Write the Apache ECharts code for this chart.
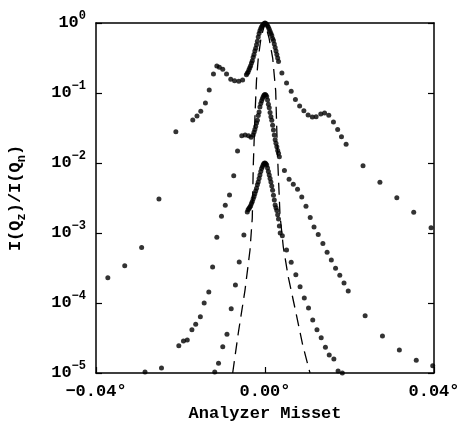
<!DOCTYPE html>
<html>
<head>
<meta charset="utf-8">
<script src="https://cdn.jsdelivr.net/npm/echarts@6/dist/echarts.min.js"></script>
<style>
    html, body { margin: 0; background: #fff; }
    #chart { width: 459px; height: 427px; }
</style>
</head>
<body>
<div id="chart"></div>
<script>
    // scan 1 (top curve, peak normalised to 1)
    var scan1X = [-0.0372, -0.0332, -0.0292, -0.0251, -0.0211, -0.0171, -0.0161, -0.0152, -0.0141, -0.0132,
        -0.0122, -0.0114, -0.0108, -0.0100, -0.0091, -0.0081, -0.0072, -0.0062, -0.0053,
        -0.0044, -0.0042, -0.0040, -0.0038, -0.0036, -0.0034, -0.0032, -0.0030, -0.0028, -0.0026,
        -0.0024, -0.0022, -0.0020, -0.0018, -0.0016, -0.0014, -0.0012, -0.0010, -0.0008, -0.0006,
        -0.0004, -0.0002, 0, 0.0002, 0.0004, 0.0006, 0.0008, 0.0010, 0.0012, 0.0014,
        0.0016, 0.0018, 0.0020, 0.0022, 0.0024, 0.0026, 0.0028, 0.0030, 0.0032,
        0.0040, 0.0051, 0.0062, 0.0072, 0.0082, 0.0092, 0.0102, 0.0112, 0.0121, 0.0132,
        0.0141, 0.0151, 0.0162, 0.0172, 0.0181, 0.0192, 0.0232, 0.0272, 0.0312, 0.0352, 0.0393];
    var scan1Y = [2.3e-4, 3.4e-4, 6.2e-4, 3.06e-3, 0.028, 0.041, 0.047, 0.055, 0.072, 0.110,
        0.187, 0.243, 0.233, 0.218, 0.187, 0.157, 0.150, 0.147, 0.153,
        0.182, 0.191, 0.200, 0.214, 0.229, 0.245, 0.269, 0.288, 0.324, 0.355,
        0.398, 0.437, 0.490, 0.550, 0.631, 0.708, 0.776, 0.832, 0.881, 0.923,
        0.955, 0.984, 1.0, 0.984, 0.955, 0.912, 0.871, 0.813, 0.759, 0.708,
        0.661, 0.603, 0.562, 0.501, 0.447, 0.398, 0.355, 0.316, 0.282,
        0.193, 0.139, 0.106, 0.081, 0.065, 0.056, 0.0485, 0.0454, 0.0458, 0.050,
        0.0518, 0.048, 0.0385, 0.030, 0.0238, 0.0185, 0.0091, 0.0053, 0.00319, 0.00198, 0.00119];

    // scan 2 (middle curve, peak ~0.1)
    var scan2X = [-0.0284, -0.0245, -0.0204, -0.0193, -0.0184, -0.0173, -0.0164, -0.0153, -0.0144, -0.0133,
        -0.0124, -0.0114, -0.0103, -0.0094, -0.0084, -0.0074, -0.0065,
        -0.0055, -0.0047, -0.0039, -0.0033, -0.0028,
        -0.0026, -0.0024, -0.0022, -0.0020, -0.0018, -0.0016, -0.0014, -0.0012, -0.0010, -0.0008,
        -0.0006, -0.0004, -0.0002, 0, 0.0002, 0.0004, 0.0006, 0.0008, 0.0010, 0.0012,
        0.0014, 0.0016, 0.0018, 0.0020, 0.0022, 0.0024, 0.0026, 0.0028, 0.0030, 0.0032, 0.0034,
        0.0046, 0.0057, 0.0067, 0.0077, 0.0087, 0.0097, 0.0107, 0.0116, 0.0126, 0.0137,
        0.0147, 0.0157, 0.0167, 0.0177, 0.0187, 0.0197, 0.0237, 0.0278, 0.0318, 0.0358, 0.0397];
    var scan2Y = [1.03e-5, 1.18e-5, 2.45e-5, 2.86e-5, 2.96e-5, 4.16e-5, 4.96e-5, 6.37e-5, 1.0e-4, 1.44e-4,
        3.27e-4, 8.7e-4, 1.73e-3, 2.49e-3, 3.49e-3, 6.6e-3, 0.0148,
        0.0245, 0.0251, 0.0245, 0.0234, 0.0251,
        0.0275, 0.0302, 0.0331, 0.0372, 0.0407, 0.0479, 0.0537, 0.0631, 0.0708, 0.0776,
        0.0832, 0.0891, 0.0933, 0.0955, 0.0933, 0.0891, 0.0794, 0.0692, 0.0617, 0.0525,
        0.0457, 0.0407, 0.0347, 0.0295, 0.0251, 0.0214, 0.0191, 0.0170, 0.0151, 0.0138, 0.0123,
        7.8e-3, 5.85e-3, 4.96e-3, 4.21e-3, 3.27e-3, 2.41e-3, 1.66e-3, 1.22e-3, 9.5e-4, 7.1e-4,
        5.3e-4, 4.1e-4, 3.13e-4, 2.49e-4, 1.93e-4, 1.48e-4, 6.6e-5, 3.38e-5, 2.13e-5, 1.52e-5, 1.27e-5];

    // scan 3 (bottom curve, peak ~0.01)
    var scan3X = [-0.0119, -0.0110, -0.0100, -0.0090, -0.0080, -0.0070, -0.0061, -0.0050,
        -0.0042, -0.0040, -0.0038, -0.0036, -0.0034, -0.0032, -0.0030, -0.0028, -0.0026, -0.0024,
        -0.0022, -0.0020, -0.0018, -0.0016, -0.0014, -0.0012, -0.0010, -0.0008, -0.0006, -0.0004,
        -0.0002, 0, 0.0002, 0.0004, 0.0006, 0.0008, 0.0010, 0.0012, 0.0014, 0.0016,
        0.0018, 0.0020, 0.0022, 0.0024, 0.0026, 0.0028, 0.0030, 0.0032, 0.0034, 0.0036,
        0.0041, 0.0051, 0.0062, 0.0073, 0.0083, 0.0093, 0.0103, 0.0113, 0.0123, 0.0133,
        0.0143, 0.0152, 0.0163, 0.0173, 0.0183];
    var scan3Y = [1.03e-5, 1.38e-5, 2.38e-5, 3.57e-5, 8.3e-5, 1.81e-4, 3.85e-4, 9.4e-4,
        2.00e-3, 2.14e-3, 2.24e-3, 2.34e-3, 2.45e-3, 2.63e-3, 2.82e-3, 3.09e-3, 3.31e-3, 3.63e-3,
        3.98e-3, 4.37e-3, 4.90e-3, 5.37e-3, 6.03e-3, 6.76e-3, 7.59e-3, 8.32e-3, 8.91e-3, 9.55e-3,
        9.89e-3, 0.0100, 9.77e-3, 9.33e-3, 8.51e-3, 7.59e-3, 6.76e-3, 6.03e-3, 5.37e-3, 4.68e-3,
        4.07e-3, 3.47e-3, 2.95e-3, 2.51e-3, 2.29e-3, 2.09e-3, 1.82e-3, 1.58e-3, 1.26e-3, 1.00e-3,
        9.1e-4, 5.7e-4, 3.81e-4, 2.54e-4, 1.71e-4, 1.18e-4, 8.5e-5, 5.7e-5, 4.16e-5, 3.19e-5,
        2.33e-5, 1.81e-5, 1.58e-5, 1.07e-5, 1.0e-5];

    // resolution function (dashed)
    var resX = [-0.00765, -0.00632, -0.00473, -0.00355, -0.00301, -0.00277, -0.00232, -0.00201, -0.00159, -0.00095, 0,
        0.00095, 0.00182, 0.00253, 0.00296, 0.00355, 0.00433, 0.00551, 0.00734, 0.00892, 0.01065];
    var resY = [1.0e-5, 3.73e-5, 1.53e-4, 5.71e-4, 1.64e-3, 9.36e-3, 0.0572, 0.153, 0.316, 0.611, 1.0,
        0.611, 0.316, 0.107, 0.0130, 1.81e-3, 6.31e-4, 2.35e-4, 7.2e-5, 2.51e-5, 1.0e-5];

    function zip(xs, ys) {
        return xs.map(function (x, i) { return [x, ys[i]]; });
    }

    var font = 'Liberation Mono';
    var chart = echarts.init(document.getElementById('chart'));

    function dots(xs, ys) {
        return {
            type: 'scatter',
            data: zip(xs, ys),
            symbol: 'circle',
            symbolSize: 5,
            itemStyle: { color: '#000' },
            silent: true,
            clip: false
        };
    }

    var frameLine = { onZero: false, lineStyle: { color: '#000', width: 1.5 } };

    var option = {
        animation: false,
        backgroundColor: '#fff',
        grid: { left: 96, right: 25, top: 23, bottom: 54, outerBoundsMode: 'none', containLabel: false },
        xAxis: [{
            type: 'value',
            min: -0.04,
            max: 0.04,
            interval: 0.04,
            name: 'Analyzer Misset',
            nameLocation: 'middle',
            nameGap: 31,
            nameTextStyle: { fontFamily: font, fontSize: 17, fontWeight: 'bold', color: '#000' },
            axisLine: frameLine,
            axisTick: { inside: true, length: 6, lineStyle: { color: '#000', width: 1.2 } },
            axisLabel: {
                margin: 10,
                fontFamily: font, fontSize: 17, fontWeight: 'bold', color: '#000',
                formatter: function (v) {
                    if (Math.abs(v) < 1e-9) return '0.00°';
                    return (v < 0 ? '−' : '') + Math.abs(v).toFixed(2) + '°';
                }
            },
            splitLine: { show: false }
        }, {
            type: 'value',
            position: 'top',
            min: -0.04,
            max: 0.04,
            axisLine: frameLine,
            axisTick: { show: false },
            axisLabel: { show: false },
            splitLine: { show: false }
        }],
        yAxis: [{
            type: 'log',
            logBase: 10,
            min: 1e-5,
            max: 1,
            position: 'left',
            name: 'I(Q{s|z})/I(Q{s|n})',
            nameLocation: 'middle',
            nameGap: 68,
            nameTextStyle: {
                fontFamily: font, fontSize: 17, fontWeight: 'bold', color: '#000', lineHeight: 24,
                rich: { s: { fontFamily: font, fontSize: 12, fontWeight: 'bold', verticalAlign: 'bottom', lineHeight: 24 } }
            },
            axisLine: frameLine,
            axisTick: { inside: true, length: 6, lineStyle: { color: '#000', width: 1.2 } },
            minorTick: { show: false },
            axisLabel: {
                margin: 10,
                formatter: function (v) {
                    var e = Math.round(Math.log10(v));
                    return '{b|10}{e|' + (e < 0 ? '−' + (-e) : e) + '}';
                },
                rich: {
                    b: { fontFamily: font, fontSize: 17, fontWeight: 'bold', color: '#000', lineHeight: 26, verticalAlign: 'middle' },
                    e: { fontFamily: font, fontSize: 12, fontWeight: 'bold', color: '#000', lineHeight: 26, verticalAlign: 'top' }
                }
            },
            splitLine: { show: false }
        }, {
            type: 'log',
            logBase: 10,
            min: 1e-5,
            max: 1,
            position: 'right',
            axisLine: frameLine,
            axisTick: { inside: true, length: 6, lineStyle: { color: '#000', width: 1.2 } },
            axisLabel: { show: false },
            splitLine: { show: false }
        }],
        series: [
            {
                type: 'line',
                data: zip(resX, resY),
                showSymbol: false,
                symbol: 'none',
                lineStyle: { color: '#000', width: 1.3, type: [12, 7] },
                silent: true,
                z: 1
            },
            dots(scan1X, scan1Y),
            dots(scan2X, scan2Y),
            dots(scan3X, scan3Y)
        ]
    };
    chart.setOption(option);
</script>
</body>
</html>
